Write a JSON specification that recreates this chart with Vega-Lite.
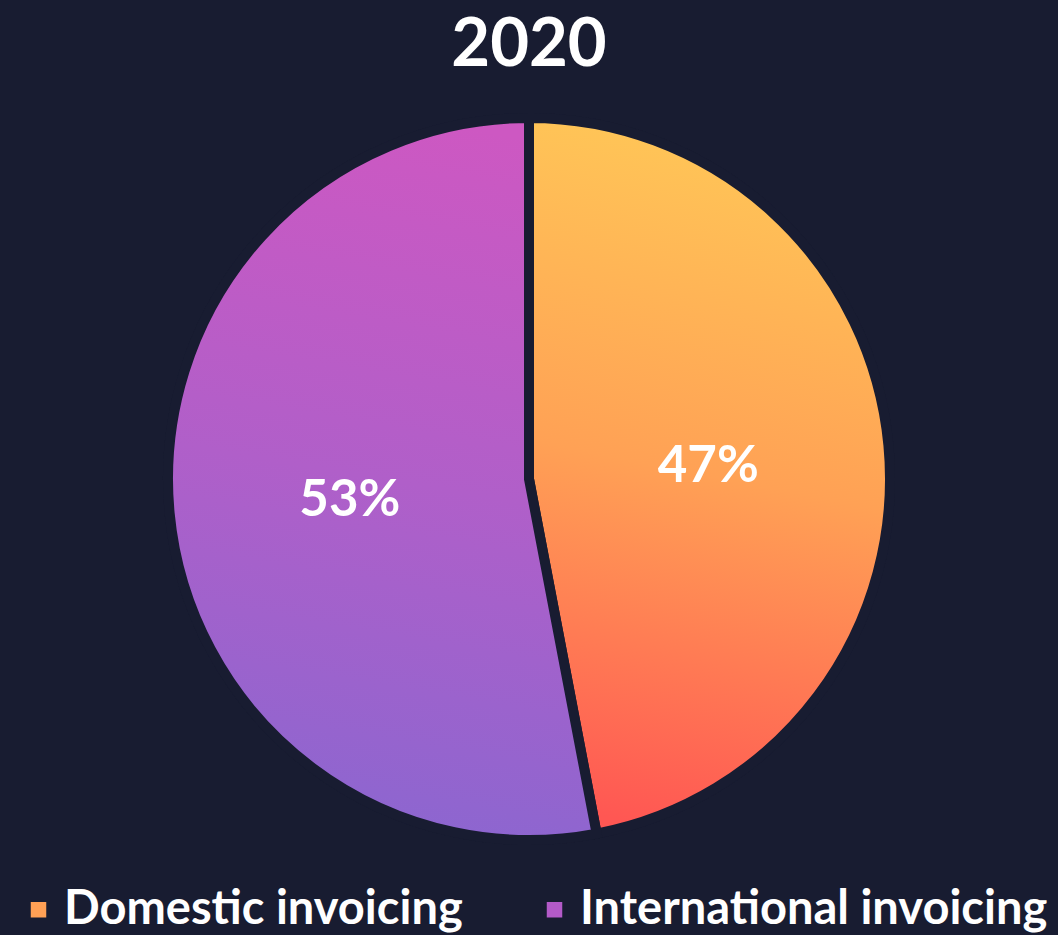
{
  "$schema": "https://vega.github.io/schema/vega-lite/v6.json",
  "autosize": {"type": "none"},
  "padding": {"top": 94, "bottom": 71, "left": 0, "right": 0},
  "width": 1058,
  "height": 770,
  "background": "#181c31",
  "title": {
    "text": "2020",
    "fontSize": 67,
    "font": "Lato",
    "fontWeight": "bold",
    "color": "#ffffff",
    "offset": 14,
    "anchor": "middle"
  },
  "data": {
    "values": [
      {"category": "Domestic invoicing", "value": 47, "label": "47%", "order": 1},
      {"category": "International invoicing", "value": 53, "label": "53%", "order": 2}
    ]
  },
  "encoding": {
    "theta": {"field": "value", "type": "quantitative", "stack": true},
    "order": {"field": "order", "type": "quantitative"}
  },
  "layer": [
    {
      "mark": {"type": "arc", "outerRadius": 361, "stroke": "#181c31", "strokeWidth": 10},
      "encoding": {
        "color": {
          "field": "category",
          "type": "nominal",
          "scale": {"domain": ["Domestic invoicing", "International invoicing"], "range": ["#ffa055", "#b35ac8"]},
          "legend": {
            "title": null,
            "orient": "bottom",
            "direction": "horizontal",
            "offset": 7,
            "padding": 15,
            "symbolType": "square",
            "symbolSize": 240,
            "symbolStrokeWidth": 0,
            "labelFontSize": 47,
            "labelFont": "Lato",
            "labelFontWeight": "bold",
            "labelColor": "#ffffff",
            "labelOffset": 2,
            "columnPadding": 68,
            "labelLimit": 600
          }
        }
      }
    },
    {
      "mark": {"type": "arc", "outerRadius": 361, "stroke": "#181c31", "strokeWidth": 10},
      "encoding": {
        "fill": {
          "condition": {
            "test": "datum.category === 'Domestic invoicing'",
            "value": {"gradient": "linear", "x1": 0.55, "y1": 0, "x2": 0.45, "y2": 1,
              "stops": [{"offset": 0, "color": "#ffc857"}, {"offset": 0.5, "color": "#ffa155"}, {"offset": 1, "color": "#ff5753"}]}
          },
          "value": {"gradient": "linear", "x1": 0.55, "y1": 0, "x2": 0.45, "y2": 1,
            "stops": [{"offset": 0, "color": "#cd58c2"}, {"offset": 0.5, "color": "#b05fc9"}, {"offset": 1, "color": "#8b66d0"}]}
        }
      }
    },
    {
      "mark": {"type": "text", "radius": 180, "font": "Lato", "fontSize": 51, "fontWeight": "bold", "fill": "#ffffff", "align": "center", "baseline": "middle", "dy": 5},
      "encoding": {
        "text": {"field": "label", "type": "nominal"}
      }
    }
  ],
  "config": {"view": {"stroke": null}}
}
